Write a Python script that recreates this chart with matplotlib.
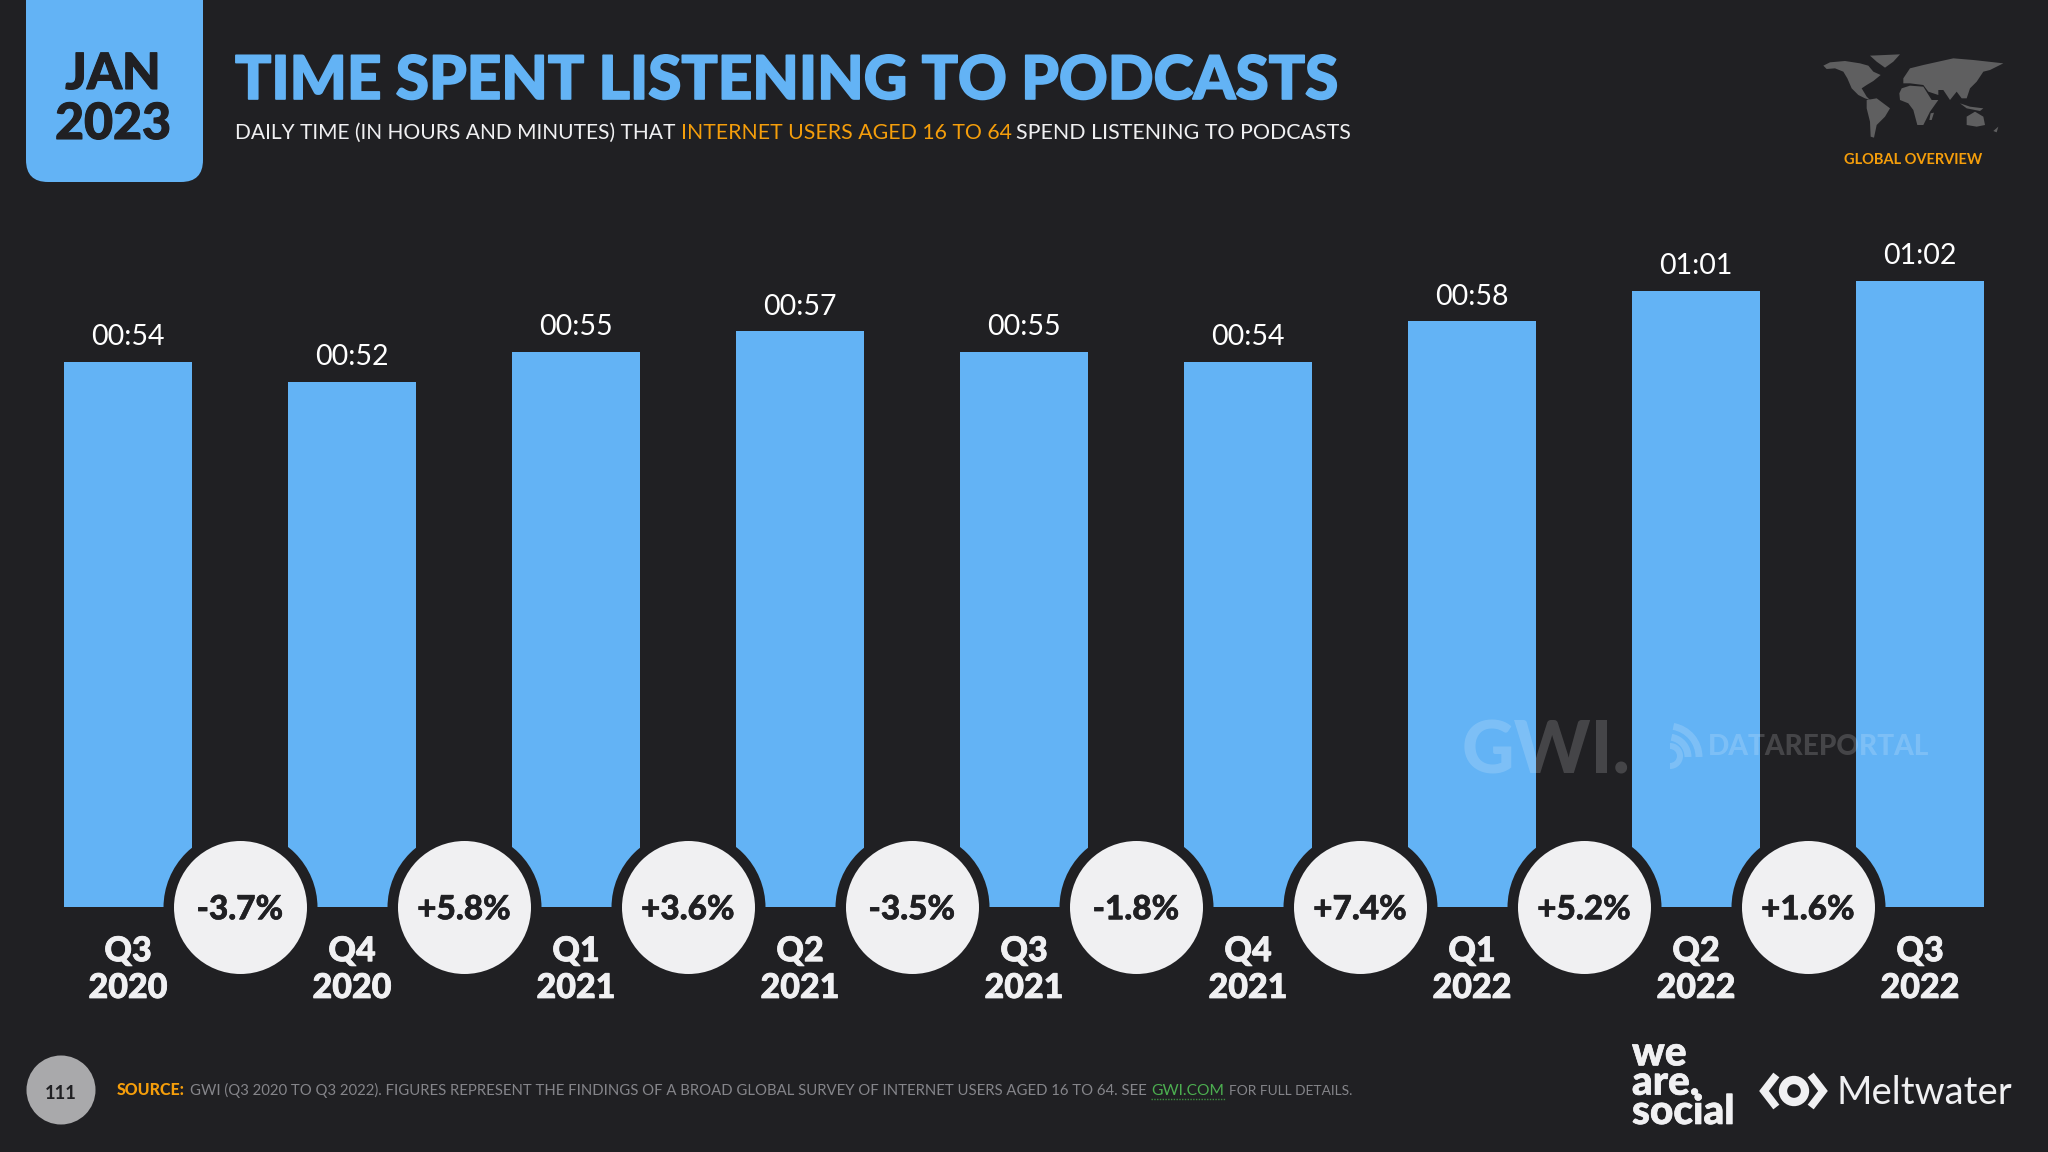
import matplotlib
matplotlib.use("Agg")
import matplotlib.pyplot as plt
import matplotlib.patheffects as pe
from matplotlib.patches import FancyBboxPatch, Polygon, Circle, Arc, Wedge

BG = "#202023"
BLUE = "#63B3F5"
ORANGE = "#F59E0B"
WHITE = "#F0F0F2"

quarters = ["Q3", "Q4", "Q1", "Q2", "Q3", "Q4", "Q1", "Q2", "Q3"]
years = ["2020", "2020", "2021", "2021", "2021", "2021", "2022", "2022", "2022"]
minutes = [54, 52, 55, 57, 55, 54, 58, 61, 62]
time_labels = ["00:54", "00:52", "00:55", "00:57", "00:55", "00:54", "00:58", "01:01", "01:02"]
changes = ["-3.7%", "+5.8%", "+3.6%", "-3.5%", "-1.8%", "+7.4%", "+5.2%", "+1.6%"]

plt.rcParams["font.family"] = ["Lato", "DejaVu Sans"]

fig = plt.figure(figsize=(20.48, 11.52), dpi=100, facecolor=BG)
renderer = fig.canvas.get_renderer()


def fit(txt, width):
    # scale the font size until the text is as wide as in the picture
    size = txt.get_fontsize()
    txt.set_fontsize(size * width / txt.get_window_extent(renderer).width)
    return txt


def heavy(txt, color, lw=0.6):
    # Lato tops out lighter than the original face, so thicken it a bit
    txt.set_path_effects([pe.withStroke(linewidth=lw, foreground=color)])
    return txt


# chart axes fill the whole figure: x = bar number, y = minutes, baseline at pixel 907
ax = fig.add_axes([0, 0, 1, 1], zorder=1)
ax.set_xlim(-128 / 224, (2048 - 128) / 224)
ax.set_ylim(-(1152 - 907) / 10.1, 907 / 10.1)
ax.axis("off")

xs = list(range(len(minutes)))
ax.bar(xs, minutes, width=128 / 224, color=BLUE, zorder=2)

mids = [i + 0.5 for i in xs[:-1]]
ax.scatter(mids, [0] * len(mids), s=(154 * 0.72) ** 2, color=BG, linewidths=0, zorder=3)
ax.scatter(mids, [0] * len(mids), s=(133 * 0.72) ** 2, color=WHITE, linewidths=0, zorder=4)

for i, label in enumerate(time_labels):
    ax.annotate(label, (i, minutes[i]), xytext=(0, 12), textcoords="offset points",
                ha="center", va="baseline", color="white", fontsize=20.5, zorder=5)
for i, q in enumerate(quarters):
    heavy(ax.annotate(q, (i, 0), xytext=(0, -39), textcoords="offset points", ha="center",
                      va="baseline", color=WHITE, fontsize=24.5, fontweight="black", zorder=5), WHITE)
    heavy(ax.annotate(years[i], (i, 0), xytext=(0, -65.5), textcoords="offset points", ha="center",
                      va="baseline", color=WHITE, fontsize=24.5, fontweight="black", zorder=5), WHITE)
for x, c in zip(mids, changes):
    heavy(ax.annotate(c, (x, 0), xytext=(0, -2), textcoords="offset points", ha="center",
                      va="center", color=BG, fontsize=24, fontweight="black", zorder=5), BG, 0.4)

# page furniture, in pixels of the 2048x1152 picture
deco = fig.add_axes([0, 0, 1, 1], zorder=2)
deco.set_xlim(0, 2048)
deco.set_ylim(1152, 0)
deco.axis("off")
deco.patch.set_alpha(0)

deco.add_patch(FancyBboxPatch((26, -40), 177, 222, boxstyle="round,pad=0,rounding_size=22",
                              fc=BLUE, ec="none"))
heavy(deco.text(113, 89, "JAN", ha="center", va="baseline", color=BG, fontsize=36, fontweight="black"), BG, 0.8)
heavy(deco.text(113, 139, "2023", ha="center", va="baseline", color=BG, fontsize=36, fontweight="black"), BG, 0.8)

heavy(fit(deco.text(235, 99, "TIME SPENT LISTENING TO PODCASTS", color=BLUE, va="baseline",
                    fontsize=46, fontweight="black"), 1103), BLUE, 1.2)

sub_size = 18
fit(deco.text(235, 139, "DAILY TIME (IN HOURS AND MINUTES) THAT", color=WHITE, va="baseline",
              fontsize=sub_size), 441)
fit(deco.text(681, 139, "INTERNET USERS AGED 16 TO 64", color=ORANGE, va="baseline",
              fontsize=sub_size), 330)
fit(deco.text(1016, 139, "SPEND LISTENING TO PODCASTS", color=WHITE, va="baseline",
              fontsize=sub_size), 333)

# world map icon, rough outlines
map_shapes = [
    [(180, 32), (270, 28), (250, 50), (225, 68), (200, 50)],
    [(40, 62), (60, 52), (105, 48), (150, 55), (175, 62), (190, 80), (212, 90), (190, 108),
     (170, 120), (155, 130), (170, 155), (180, 165), (165, 160), (145, 150), (125, 130),
     (112, 100), (100, 80), (75, 70), (50, 72)],
    [(170, 165), (200, 160), (240, 190), (225, 215), (200, 240), (192, 278), (182, 275),
     (180, 230), (170, 190)],
    [(275, 130), (300, 122), (340, 125), (365, 165), (385, 165), (360, 200), (340, 240),
     (322, 240), (310, 195), (295, 175), (270, 165), (268, 145)],
    [(280, 100), (300, 70), (340, 60), (430, 40), (490, 45), (580, 55), (540, 75), (520, 80),
     (500, 110), (480, 130), (470, 160), (455, 160), (440, 140), (420, 165), (400, 135),
     (385, 135), (385, 150), (355, 140), (340, 120), (300, 115), (280, 115)],
    [(470, 215), (495, 200), (520, 215), (525, 240), (500, 245), (470, 240)],
    [(450, 175), (480, 185), (520, 190), (510, 198), (470, 190)],
    [(362, 205), (372, 203), (365, 225), (358, 225)],
    [(550, 258), (565, 245), (560, 262)],
]
for shape in map_shapes:
    deco.add_patch(Polygon([(1810 + x / 3, 45 + y / 3) for x, y in shape], fc="#5F5F60", ec="none"))
fit(deco.text(1844, 164, "GLOBAL OVERVIEW", color=ORANGE, va="baseline", fontsize=12,
              fontweight="bold"), 139)

# watermarks
fit(deco.text(1462, 773, "GWI.", color="white", alpha=0.17, va="baseline", fontsize=70,
              fontweight="black"), 169)
fit(deco.text(1708, 755, "DATAREPORTAL", color="white", alpha=0.17, va="baseline", fontsize=28,
              fontweight="black"), 222)
deco.add_patch(Arc((1668, 757), 62, 62, theta1=280, theta2=360, ec="white", lw=5, alpha=0.17))
deco.add_patch(Arc((1668, 757), 40, 40, theta1=280, theta2=360, ec="white", lw=5, alpha=0.17))
deco.add_patch(Wedge((1670, 756), 13, 270, 90, width=6, fc="white", alpha=0.17))

# footer
deco.add_patch(Circle((61, 1090), 34.5, fc="#A9A9AB", ec="none"))
fit(deco.text(61, 1099, "111", ha="center", va="baseline", color=BG, fontsize=18,
              fontweight="bold"), 32)
fit(deco.text(117, 1095, "SOURCE:", color=ORANGE, va="baseline", fontsize=13, fontweight="black"), 68)
grey = "#85858A"
fit(deco.text(190, 1095, "GWI (Q3 2020 TO Q3 2022). FIGURES REPRESENT THE FINDINGS OF A BROAD GLOBAL "
                         "SURVEY OF INTERNET USERS AGED 16 TO 64. SEE",
              color=grey, va="baseline", fontsize=13), 952)
fit(deco.text(1151, 1095, "GWI.COM", color="#4CAF50", va="baseline", fontsize=13), 73)
deco.plot([1151, 1225], [1099, 1099], color="#3E8E41", lw=1, ls=(0, (1, 1)))
fit(deco.text(1229, 1095, "FOR FULL DETAILS.", color=grey, va="baseline", fontsize=13), 123)

# logos
heavy(fit(deco.text(1632, 1124, "we\nare.\nsocial", color=WHITE, va="baseline", fontsize=26,
                    fontweight="black", linespacing=0.72), 103), WHITE, 0.5)
deco.plot([1774, 1764, 1774], [1078, 1091, 1104], color=WHITE, lw=5.5, solid_joinstyle="miter")
deco.plot([1813, 1823, 1813], [1078, 1091, 1104], color=WHITE, lw=5.5, solid_joinstyle="miter")
deco.add_patch(Circle((1794, 1091), 11, fc="none", ec=WHITE, lw=6))
fit(deco.text(1836, 1104, "Meltwater", color=WHITE, va="baseline", fontsize=26), 175)

fig.savefig("out.png", dpi=100, facecolor=BG)
